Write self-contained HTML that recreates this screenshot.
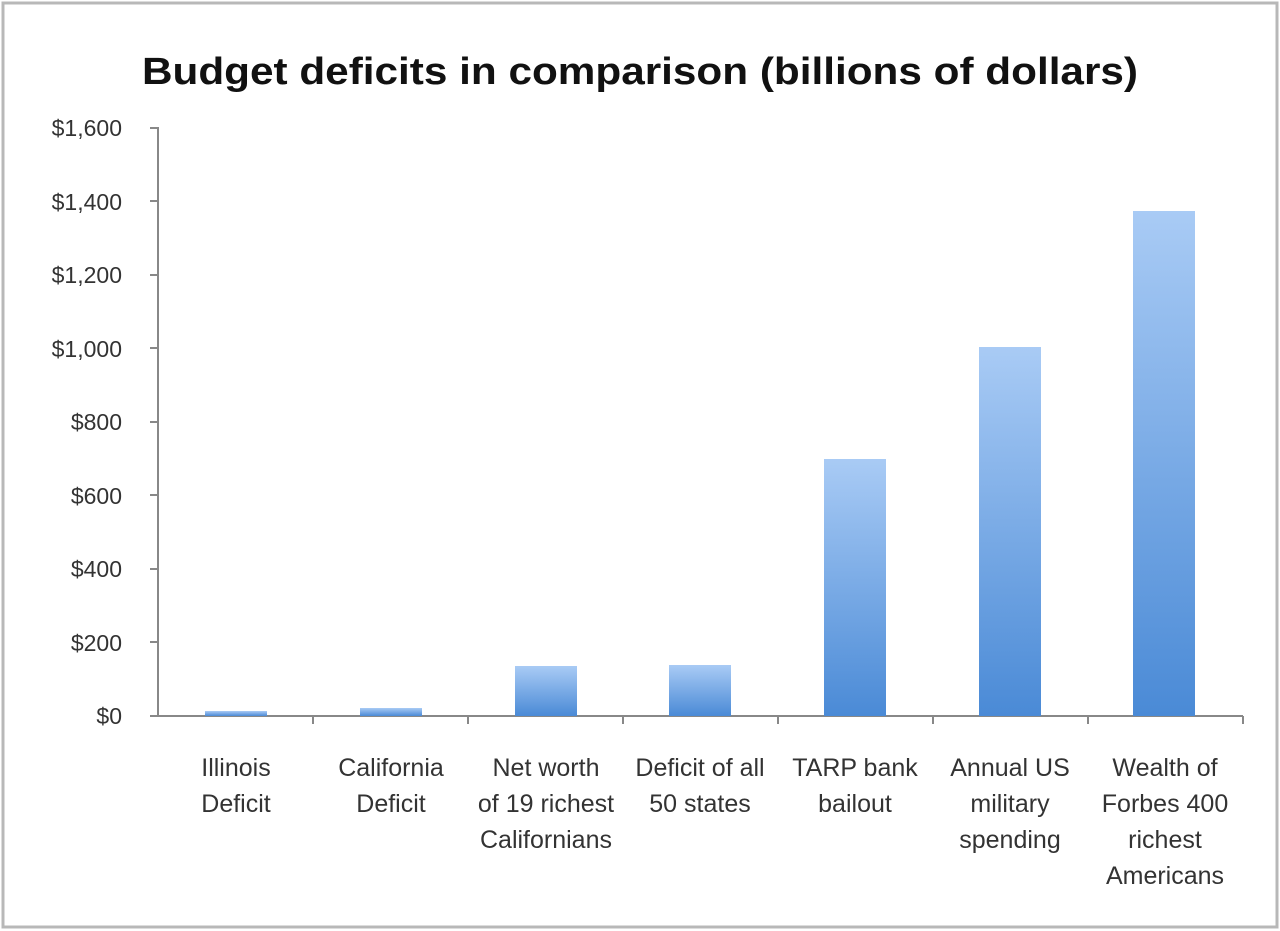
<!DOCTYPE html>
<html><head><meta charset="utf-8"><style>
body{margin:0;background:#fff;}
svg{display:block;font-family:"Liberation Sans",sans-serif;}
</style></head><body>
<svg width="1280" height="931" viewBox="0 0 1280 931">
<defs><linearGradient id="g" x1="0" y1="0" x2="0" y2="1"><stop offset="0" stop-color="#a9cbf5"/><stop offset="1" stop-color="#4a8ad6"/></linearGradient></defs>
<rect x="3" y="3" width="1274" height="924" fill="#fff" stroke="#b8b8b8" stroke-width="3"/>
<text x="640" y="84" text-anchor="middle" font-size="38" font-weight="bold" fill="#111" textLength="996" lengthAdjust="spacingAndGlyphs">Budget deficits in comparison (billions of dollars)</text>
<g font-size="23" fill="#333" text-anchor="end">
<text x="122" y="724">$0</text><text x="122" y="651">$200</text><text x="122" y="577">$400</text><text x="122" y="504">$600</text><text x="122" y="430">$800</text><text x="122" y="357">$1,000</text><text x="122" y="283">$1,200</text><text x="122" y="210">$1,400</text><text x="122" y="136">$1,600</text>
</g>
<g stroke="#888" stroke-width="2">
<line x1="158" y1="127" x2="158" y2="717"/><line x1="158" y1="716" x2="1243" y2="716"/>
<line x1="150" y1="128" x2="158" y2="128"/><line x1="150" y1="201" x2="158" y2="201"/><line x1="150" y1="275" x2="158" y2="275"/><line x1="150" y1="348" x2="158" y2="348"/><line x1="150" y1="422" x2="158" y2="422"/><line x1="150" y1="495" x2="158" y2="495"/><line x1="150" y1="569" x2="158" y2="569"/><line x1="150" y1="642" x2="158" y2="642"/><line x1="150" y1="716" x2="158" y2="716"/>
<line x1="313" y1="716" x2="313" y2="724"/><line x1="468" y1="716" x2="468" y2="724"/><line x1="623" y1="716" x2="623" y2="724"/><line x1="778" y1="716" x2="778" y2="724"/><line x1="933" y1="716" x2="933" y2="724"/><line x1="1088" y1="716" x2="1088" y2="724"/><line x1="1243" y1="716" x2="1243" y2="724"/>
</g>
<g fill="url(#g)">
<rect x="205" y="711" width="62" height="5"/>
<rect x="360" y="708" width="62" height="8"/>
<rect x="515" y="666" width="62" height="50"/>
<rect x="669" y="665" width="62" height="51"/>
<rect x="824" y="459" width="62" height="257"/>
<rect x="979" y="347" width="62" height="369"/>
<rect x="1133" y="211" width="62" height="505"/>
</g>
<g font-size="25" fill="#333" text-anchor="middle">
<text x="236" y="776">Illinois</text><text x="236" y="812">Deficit</text>
<text x="391" y="776">California</text><text x="391" y="812">Deficit</text>
<text x="546" y="776">Net worth</text><text x="546" y="812">of 19 richest</text><text x="546" y="848">Californians</text>
<text x="700" y="776">Deficit of all</text><text x="700" y="812">50 states</text>
<text x="855" y="776">TARP bank</text><text x="855" y="812">bailout</text>
<text x="1010" y="776">Annual US</text><text x="1010" y="812">military</text><text x="1010" y="848">spending</text>
<text x="1165" y="776">Wealth of</text><text x="1165" y="812">Forbes 400</text><text x="1165" y="848">richest</text><text x="1165" y="884">Americans</text>
</g>
</svg>
</body></html>
